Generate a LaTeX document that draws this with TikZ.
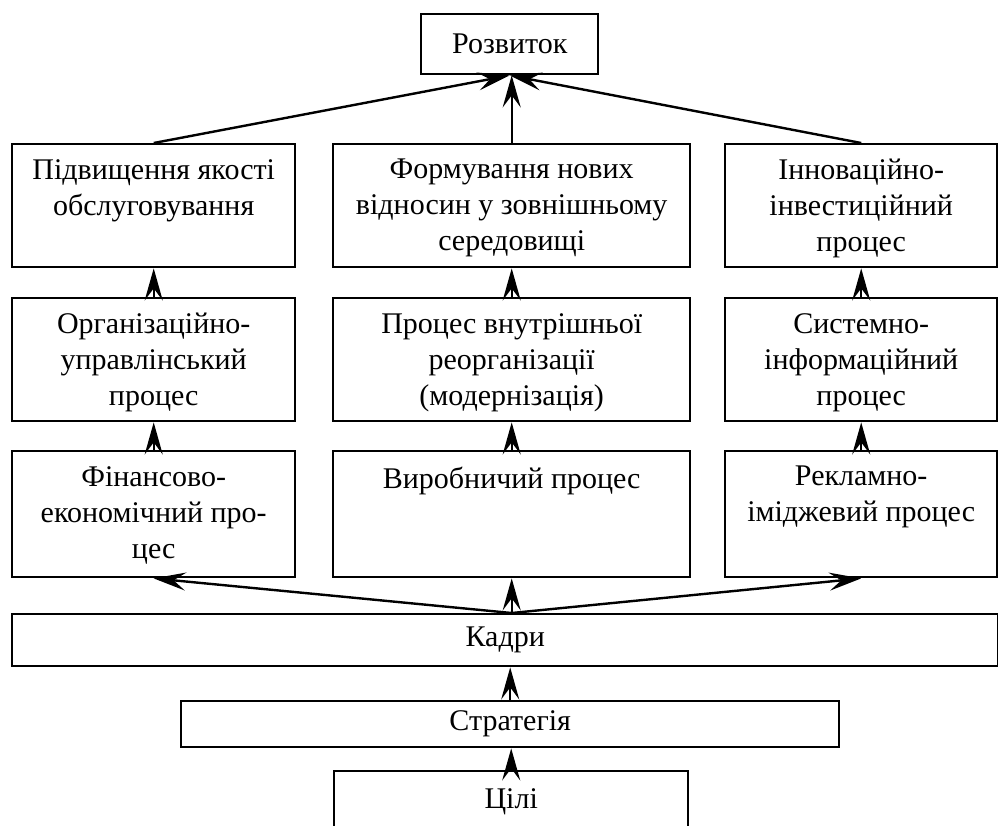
\documentclass[tikz,border=0pt]{standalone}
\usepackage{fontspec}
\setmainfont{Liberation Serif}
\usetikzlibrary{arrows.meta}
\begin{document}
\begin{tikzpicture}[x=1pt,y=-1pt,
  box/.style={draw, line width=2.4pt, inner sep=0pt, anchor=north west},
  sbox/.style={box, font=\fontsize{30}{36}\selectfont},
  txt/.style={anchor=north, inner sep=0pt, align=center, font=\fontsize{30}{36}\selectfont, execute at begin node={\rule{0pt}{22pt}}},
  arr/.style={line width=2.4pt, -{Stealth[length=32pt,width=18pt,inset=12pt]}}]
\useasboundingbox (0,0) rectangle (998,825);
% top
\node[sbox, minimum width=177pt, minimum height=60pt] (roz) at (420,13) {Розвиток};
% row 1
\node[box, minimum width=283pt, minimum height=123pt] (b1l) at (11,143) {};
\node[box, minimum width=357pt, minimum height=123pt] (b1m) at (332,143) {};
\node[box, minimum width=272pt, minimum height=123pt] (b1r) at (724,143) {};
% row 2
\node[box, minimum width=283pt, minimum height=123pt] (b2l) at (11,297) {};
\node[box, minimum width=357pt, minimum height=123pt] (b2m) at (332,297) {};
\node[box, minimum width=272pt, minimum height=123pt] (b2r) at (724,297) {};
% row 3
\node[box, minimum width=283pt, minimum height=126pt] (b3l) at (11,450) {};
\node[box, minimum width=357pt, minimum height=126pt] (b3m) at (332,450) {};
\node[box, minimum width=272pt, minimum height=126pt] (b3r) at (724,450) {};
% bottom
\node[sbox, minimum width=986pt, minimum height=52pt] (kadry) at (11,613) {Кадри};
\node[sbox, minimum width=658pt, minimum height=46pt] (strat) at (180,700) {Стратегія};
\node[sbox, minimum width=354pt, minimum height=62pt] (cili) at (333,770) {Цілі};
% texts
\node[txt] (t1l) at ([yshift=-16pt]b1l.north) {Підвищення якості\\обслуговування};
\node[txt] (t1m) at ([yshift=-16pt]b1m.north) {Формування нових\\відносин у зовнішньому\\середовищі};
\node[txt] (t1r) at ([yshift=-16pt]b1r.north) {Інноваційно-\\інвестиційний\\процес};
\node[txt] (t2l) at ([yshift=-16pt]b2l.north) {Організаційно-\\управлінський\\процес};
\node[txt] (t2m) at ([yshift=-16pt]b2m.north) {Процес внутрішньої\\реорганізації\\(модернізація)};
\node[txt] (t2r) at ([yshift=-16pt]b2r.north) {Системно-\\інформаційний\\процес};
\node[txt] (t3l) at ([yshift=-16pt]b3l.north) {Фінансово-\\економічний про-\\цес};
\node[txt] (t3m) at ([yshift=-16pt]b3m.north) {Виробничий процес};
\node[txt] (t3r) at ([yshift=-16pt]b3r.north) {Рекламно-\\іміджевий процес};
% connectors
\draw[arr] (b1l.north) -- (roz.south);
\draw[arr] (b1r.north) -- (roz.south);
\draw[arr] (b1m.north) -- (b1m.north |- roz.south);
\foreach \c in {l,m,r}{
  \draw[arr] (b2\c.north) -- (b1\c.south);
  \draw[arr] (b3\c.north) -- (b2\c.south);
}
\coordinate (ks) at (b3m.south |- kadry.north);
\draw[arr] (ks) -- (b3l.south);
\draw[arr] (ks) -- (b3m.south);
\draw[arr] (ks) -- (b3r.south);
\draw[arr] (strat.north) -- (strat.north |- kadry.south);
\draw[arr] (cili.north) -- (cili.north |- strat.south);
\end{tikzpicture}
\end{document}
